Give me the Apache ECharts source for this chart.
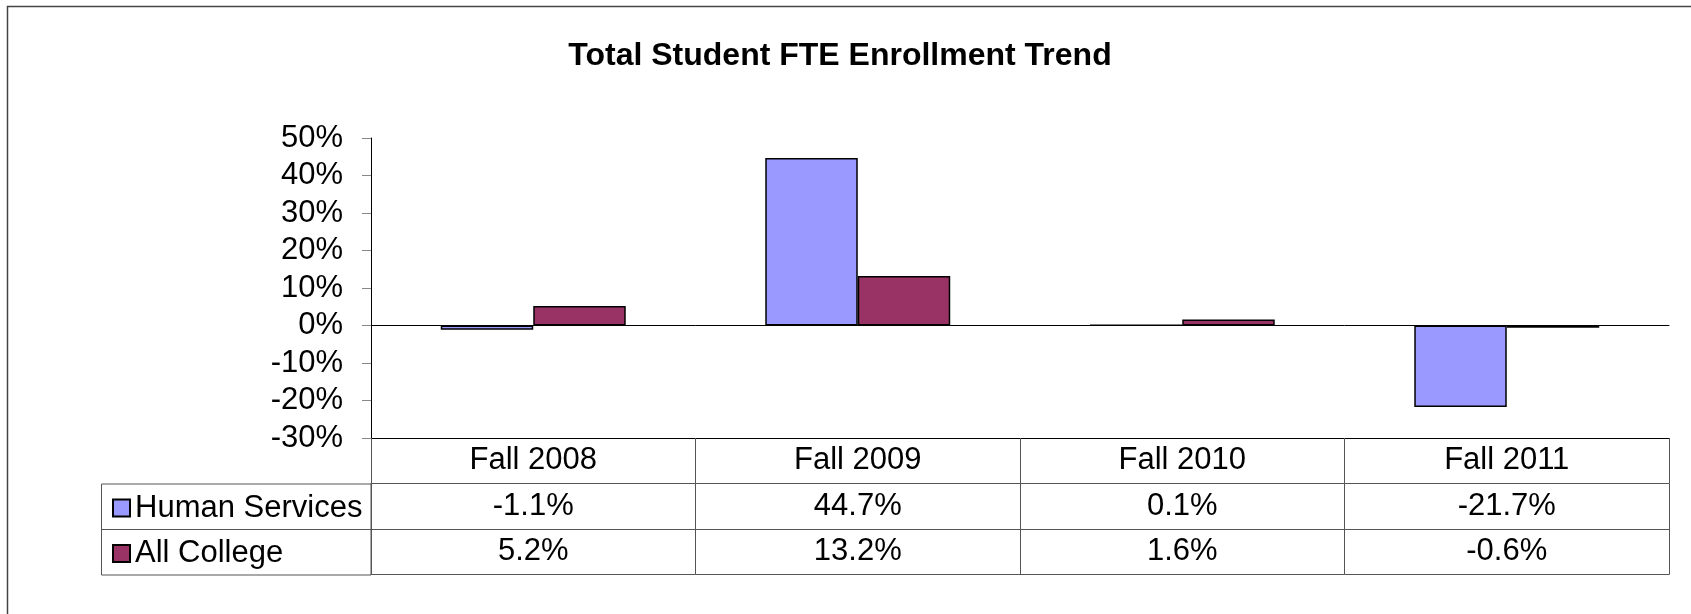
<!DOCTYPE html>
<html>
<head>
<meta charset="utf-8">
<title>Total Student FTE Enrollment Trend</title>
<script src="https://cdn.jsdelivr.net/npm/echarts@6/dist/echarts.min.js"></script>
<style>
  html, body { margin: 0; padding: 0; background: #fff; }
  #main { width: 1691px; height: 614px; }
</style>
</head>
<body>
<div id="main"></div>
<script>
// 数据
const categories = ['Fall 2008', 'Fall 2009', 'Fall 2010', 'Fall 2011'];
const seriesNames = ['Human Services', 'All College'];
const humanServices = [-1.1, 44.7, 0.1, -21.7];
const allCollege = [5.2, 13.2, 1.6, -0.6];
const yTicks = { min: -30, max: 50, step: 10 };

const color = ['#9999FF', '#993366'];
const font = 'Liberation Sans, Arial, sans-serif';
const tableLine = '#555';

// grid 位置
const gridLeft = 371;
const gridRight = 22;
const gridTop = 138;
const gridBottom = 176;
const rowH = 45.5;

const fmt = v => v.toFixed(1) + '%';

// 表格的一行 = 一个底部 x 轴
function tableRow(offset, values, lineColor, tickLen) {
  return {
    type: 'category',
    position: 'bottom',
    offset,
    data: categories,
    axisLine: { show: true, onZero: false, lineStyle: { color: lineColor, width: 1 } },
    axisTick: { show: tickLen > 0, interval: 0, inside: false, length: tickLen, lineStyle: { color: tableLine } },
    axisLabel: {
      show: !!values,
      interval: 0,
      margin: 7,
      color: '#000',
      fontFamily: font,
      fontSize: 31,
      formatter: (v, i) => (values ? values[i] : ''),
    },
    splitLine: { show: false },
  };
}

const chart = echarts.init(document.getElementById('main'), null, { renderer: 'canvas' });
const W = 1691, H = 614;
const tableTop = H - gridBottom;

const option = {
  backgroundColor: '#fff',
  animation: false,
  title: {
    text: 'Total Student FTE Enrollment Trend',
    left: 835,
    top: 35,
    textAlign: 'center',
    textStyle: { fontFamily: font, fontSize: 32, fontWeight: 'bold', color: '#000' },
  },
  legend: {
    orient: 'vertical',
    left: 107,
    top: tableTop + rowH + 4,
    itemWidth: 17,
    itemHeight: 17,
    itemGap: 14.5,
    icon: 'rect',
    data: seriesNames,
    itemStyle: { borderColor: '#000', borderWidth: 2 },
    textStyle: { fontFamily: font, fontSize: 31, lineHeight: 31, color: '#000' },
    selectedMode: false,
  },
  grid: { left: gridLeft, right: gridRight, top: gridTop, bottom: gridBottom, containLabel: false },
  xAxis: [
    // 零线
    {
      type: 'category',
      data: categories,
      axisLine: { show: true, onZero: true, lineStyle: { color: '#000', width: 1 } },
      axisTick: { show: false },
      axisLabel: { show: false },
    },
    tableRow(0, categories, '#000', rowH),
    tableRow(rowH, humanServices.map(fmt), tableLine, rowH),
    tableRow(rowH * 2, allCollege.map(fmt), tableLine, rowH),
    tableRow(rowH * 3, null, tableLine, 0),
  ],
  yAxis: {
    type: 'value',
    min: yTicks.min,
    max: yTicks.max,
    interval: yTicks.step,
    axisLine: { show: true, lineStyle: { color: '#000', width: 1 } },
    axisTick: { show: true, length: 9, lineStyle: { color: '#888' } },
    axisLabel: { margin: 28, color: '#000', fontFamily: font, fontSize: 31, formatter: '{value}%' },
    splitLine: { show: false },
  },
  series: [
    {
      name: seriesNames[0],
      type: 'bar',
      data: humanServices,
      barGap: '0%',
      barCategoryGap: '43%',
      itemStyle: { color: color[0], borderColor: '#000', borderWidth: 1.5 },
    },
    {
      name: seriesNames[1],
      type: 'bar',
      data: allCollege,
      barGap: '0%',
      barCategoryGap: '43%',
      itemStyle: { color: color[1], borderColor: '#000', borderWidth: 1.5 },
    },
  ],
  graphic: [
    // 外框
    {
      type: 'rect',
      shape: { x: 7.5, y: 6.5, width: W + 20, height: H + 20 },
      style: { fill: 'none', stroke: '#444', lineWidth: 1.5 },
      silent: true,
    },
    // 图例列
    {
      type: 'rect',
      shape: { x: 101.5, y: tableTop + rowH + 0.5, width: gridLeft - 101.5, height: rowH * 2 },
      style: { fill: 'none', stroke: tableLine, lineWidth: 1 },
      silent: true,
    },
    {
      type: 'line',
      shape: { x1: 101.5, y1: tableTop + rowH * 2 + 0.5, x2: gridLeft, y2: tableTop + rowH * 2 + 0.5 },
      style: { stroke: tableLine, lineWidth: 1 },
      silent: true,
    },
  ],
};

chart.setOption(option);
window.onresize = () => chart.resize();
</script>
</body>
</html>
